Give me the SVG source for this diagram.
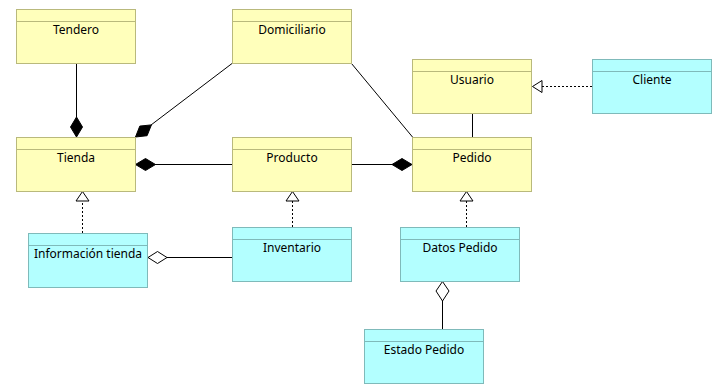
<svg xmlns="http://www.w3.org/2000/svg" width="726" height="392" viewBox="0 0 726 392">
  <defs>
    <style>
      .box rect, .box line { stroke-width: 1; }
      .entity rect { fill: #ffffbb; stroke: #b9b97c; }
      .entity line { stroke: #b9b97c; }
      .detail rect { fill: #b3ffff; stroke: #7fbaba; }
      .detail line { stroke: #7fbaba; }
      .box text { font-family: "Noto Sans", "Open Sans", sans-serif; font-size: 12px; fill: #000; text-anchor: middle; }
      .conn line { stroke: #000; stroke-width: 1; fill: none; }
      .conn .dash { stroke-dasharray: 2 2; }
      .filled { fill: #000; stroke: #000; stroke-width: 1; }
      .hollow { fill: #fff; stroke: #000; stroke-width: 1; }
    </style>
  </defs>
  <rect width="726" height="392" fill="#fff"/>

  <!-- connectors -->
  <g id="connectors" class="conn">
    <!-- Tendero composes Tienda -->
    <line x1="76.5" y1="63" x2="76.5" y2="117"/>
    <polygon class="filled" points="76.5,137 82.5,127 76.5,117 70.5,127"/>
    <!-- Domiciliario composes Tienda -->
    <line x1="232" y1="63.5" x2="151" y2="125"/>
    <polygon class="filled" points="135.5,137 147.1,135.7 151.4,124.9 139.8,126.1"/>
    <!-- Producto composes Tienda -->
    <line x1="155" y1="164.5" x2="232" y2="164.5"/>
    <polygon class="filled" points="135.5,164.5 145.5,158.5 155.5,164.5 145.5,170.5"/>
    <!-- Producto composes Pedido -->
    <line x1="351" y1="164.5" x2="392.5" y2="164.5"/>
    <polygon class="filled" points="412,164.5 402,158.5 392,164.5 402,170.5"/>
    <!-- Domiciliario to Pedido -->
    <line x1="351.5" y1="63.5" x2="412.5" y2="137"/>
    <!-- Usuario to Pedido -->
    <line x1="472.5" y1="113" x2="472.5" y2="137"/>
    <!-- Cliente realizes Usuario -->
    <line class="dash" x1="592" y1="86.5" x2="542" y2="86.5"/>
    <polygon class="hollow" points="532.5,86.5 542,80.5 542,92.5"/>
    <!-- Información tienda realizes Tienda -->
    <line class="dash" x1="82.5" y1="233" x2="82.5" y2="201"/>
    <polygon class="hollow" points="82.5,191.5 89,201 76,201"/>
    <!-- Inventario realizes Producto -->
    <line class="dash" x1="292.5" y1="227" x2="292.5" y2="201"/>
    <polygon class="hollow" points="292.5,191.5 299,201 286,201"/>
    <!-- Datos Pedido realizes Pedido -->
    <line class="dash" x1="466.5" y1="227" x2="466.5" y2="201"/>
    <polygon class="hollow" points="466.5,191.5 473,201 460,201"/>
    <!-- Inventario aggregated by Información tienda -->
    <line x1="167" y1="257.5" x2="232" y2="257.5"/>
    <polygon class="hollow" points="148,257.5 157.5,251.5 167,257.5 157.5,263.5"/>
    <!-- Estado Pedido aggregated by Datos Pedido -->
    <line x1="442.5" y1="301" x2="442.5" y2="329"/>
    <polygon class="hollow" points="442.5,281.5 449,291 442.5,301 436,291"/>
  </g>

  <g id="tendero" class="box entity">
    <rect x="16.5" y="9.5" width="119" height="54"/>
    <line x1="16.5" y1="21.5" x2="135.5" y2="21.5"/>
    <text x="76" y="34">Tendero</text>
  </g>
  <g id="domiciliario" class="box entity">
    <rect x="232.5" y="9.5" width="119" height="54"/>
    <line x1="232.5" y1="21.5" x2="351.5" y2="21.5"/>
    <text x="292" y="34">Domiciliario</text>
  </g>
  <g id="usuario" class="box entity">
    <rect x="412.5" y="59.5" width="119" height="54"/>
    <line x1="412.5" y1="71.5" x2="531.5" y2="71.5"/>
    <text x="472" y="84">Usuario</text>
  </g>
  <g id="cliente" class="box detail">
    <rect x="592.5" y="59.5" width="119" height="54"/>
    <line x1="592.5" y1="71.5" x2="711.5" y2="71.5"/>
    <text x="652" y="84">Cliente</text>
  </g>
  <g id="tienda" class="box entity">
    <rect x="16.5" y="137.5" width="119" height="54"/>
    <line x1="16.5" y1="149.5" x2="135.5" y2="149.5"/>
    <text x="76" y="162">Tienda</text>
  </g>
  <g id="producto" class="box entity">
    <rect x="232.5" y="137.5" width="119" height="54"/>
    <line x1="232.5" y1="149.5" x2="351.5" y2="149.5"/>
    <text x="292" y="162">Producto</text>
  </g>
  <g id="pedido" class="box entity">
    <rect x="412.5" y="137.5" width="119" height="54"/>
    <line x1="412.5" y1="149.5" x2="531.5" y2="149.5"/>
    <text x="472" y="162">Pedido</text>
  </g>
  <g id="informacion-tienda" class="box detail">
    <rect x="28.5" y="233.5" width="119" height="54"/>
    <line x1="28.5" y1="245.5" x2="147.5" y2="245.5"/>
    <text x="88" y="258">Información tienda</text>
  </g>
  <g id="inventario" class="box detail">
    <rect x="232.5" y="227.5" width="119" height="54"/>
    <line x1="232.5" y1="239.5" x2="351.5" y2="239.5"/>
    <text x="292" y="252">Inventario</text>
  </g>
  <g id="datos-pedido" class="box detail">
    <rect x="400.5" y="227.5" width="119" height="54"/>
    <line x1="400.5" y1="239.5" x2="519.5" y2="239.5"/>
    <text x="460" y="252">Datos Pedido</text>
  </g>
  <g id="estado-pedido" class="box detail">
    <rect x="364.5" y="329.5" width="119" height="54"/>
    <line x1="364.5" y1="341.5" x2="483.5" y2="341.5"/>
    <text x="424" y="354">Estado Pedido</text>
  </g>
</svg>
